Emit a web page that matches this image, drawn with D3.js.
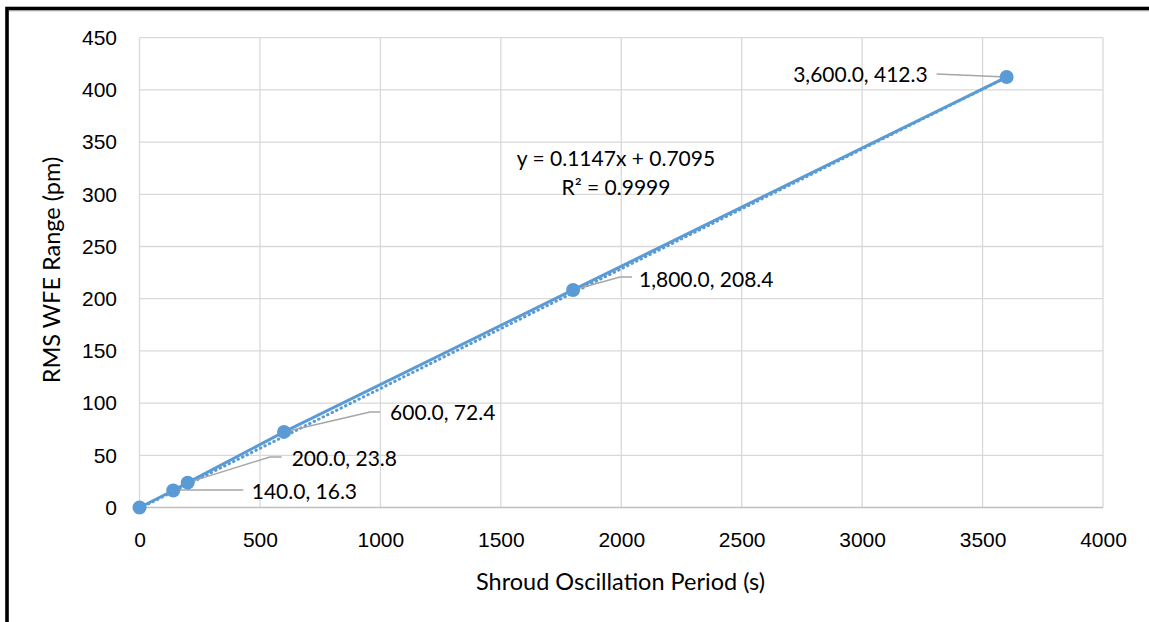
<!DOCTYPE html>
<html><head><meta charset="utf-8">
<script src="https://cdn.jsdelivr.net/npm/d3@7"></script>
<style>
html,body{margin:0;padding:0;background:#fff;}
svg{display:block;font-family:Lato, "Open Sans", sans-serif;}
</style></head>
<body>
<svg id="chart" width="1149" height="622"></svg>
<script>
const xValues = [0, 140, 200, 600, 1800, 3600];
const yValues = [0, 16.3, 23.8, 72.4, 208.4, 412.3];
const pointLabels = ["", "140.0, 16.3", "200.0, 23.8", "600.0, 72.4", "1,800.0, 208.4", "3,600.0, 412.3"];
const xTicks = [0, 500, 1000, 1500, 2000, 2500, 3000, 3500, 4000];
const yTicks = [0, 50, 100, 150, 200, 250, 300, 350, 400, 450];
const trendSlope = 0.1147, trendIntercept = 0.7095;
const equationLines = ["y = 0.1147x + 0.7095", "R² = 0.9999"];
const xTitle = "Shroud Oscillation Period (s)";
const yTitle = "RMS WFE Range (pm)";

const svg = d3.select("#chart");
const x = d3.scaleLinear().domain([0, 4000]).range([139.5, 1103]);
const y = d3.scaleLinear().domain([0, 450]).range([507.5, 37.7]);
const fs = 21;

// frame
svg.append("rect").attr("x", 7).attr("y", 8.5).attr("width", 1160).attr("height", 640)
  .attr("fill", "none").attr("stroke", "#000").attr("stroke-width", 3.6);
svg.append("line").attr("x1", 9).attr("x2", 1149).attr("y1", 10.8).attr("y2", 10.8)
  .attr("stroke", "#a0a0a0").attr("stroke-width", 1);

// gridlines
const g = svg.append("g");
g.selectAll(".vg").data(xTicks).join("line")
  .attr("x1", d => x(d)).attr("x2", d => x(d)).attr("y1", y(450)).attr("y2", y(0))
  .attr("stroke", "#d9d9d9").attr("stroke-width", 1.3);
g.selectAll(".hg").data(yTicks).join("line")
  .attr("x1", x(0)).attr("x2", x(4000)).attr("y1", d => y(d)).attr("y2", d => y(d))
  .attr("stroke", d => d === 0 ? "#bfbfbf" : "#d9d9d9").attr("stroke-width", 1.3);

// axes via d3
const xAxis = svg.append("g").attr("transform", `translate(0,${y(0)})`)
  .call(d3.axisBottom(x).tickValues(xTicks).tickSize(0).tickPadding(24.6).tickFormat(d3.format("d")));
xAxis.select(".domain").remove();
xAxis.selectAll("text").attr("font-size", fs).attr("fill", "#000").attr("font-family", "inherit");

const yAxis = svg.append("g").attr("transform", `translate(${x(0)},0)`)
  .call(d3.axisLeft(y).tickValues(yTicks).tickSize(0).tickPadding(22.5).tickFormat(d3.format("d")));
yAxis.select(".domain").remove();
yAxis.selectAll("text").attr("font-size", fs).attr("fill", "#000").attr("font-family", "inherit");

// titles
svg.append("text").attr("x", 620.5).attr("y", 590).attr("text-anchor", "middle")
  .attr("font-size", 23.5).text(xTitle);
svg.append("text").attr("transform", "translate(60,270) rotate(-90)").attr("text-anchor", "middle")
  .attr("font-size", 23.5).text(yTitle);

const data = xValues.map((v, i) => ({x: v, y: yValues[i], label: pointLabels[i]}));

// trendline (dotted)
svg.append("line")
  .attr("x1", x(0)).attr("y1", y(trendIntercept))
  .attr("x2", x(3600)).attr("y2", y(trendSlope * 3600 + trendIntercept))
  .attr("stroke", "#5b9bd5").attr("stroke-width", 3).attr("stroke-linecap", "round")
  .attr("stroke-dasharray", "0.5 4.5").attr("transform", "translate(0,1.5)");

// data line
svg.append("path").datum(data)
  .attr("d", d3.line().x(d => x(d.x)).y(d => y(d.y)))
  .attr("fill", "none").attr("stroke", "#5b9bd5").attr("stroke-width", 3).attr("stroke-linejoin", "round");

// leader lines (offsets from point, in pixels) and label positions
const leaders = {
  1: {pts: [[0, -0.5], [70, -0.5]], tx: 78.5, ty: 8.8},
  2: {pts: [[0, 0], [82, -25.6], [94, -25.6]], tx: 104, ty: -16.6},
  3: {pts: [[0, 0], [86, -20], [96, -20]], tx: 106, ty: -12},
  4: {pts: [[0, 0], [47, -13], [59, -13]], tx: 66, ty: -2.6},
  5: {pts: [[0, 0], [-70, -3]], tx: -79, ty: 4.6, anchor: "end"}
};
data.forEach((d, i) => {
  const L = leaders[i];
  if (!L) return;
  const px = x(d.x), py = y(d.y);
  svg.append("polyline")
    .attr("points", L.pts.map(p => [px + p[0], py + p[1]].join(",")).join(" "))
    .attr("fill", "none").attr("stroke", "#a6a6a6").attr("stroke-width", 1.5);
  svg.append("text").attr("x", px + L.tx).attr("y", py + L.ty)
    .attr("text-anchor", L.anchor || "start").attr("font-size", fs).text(d.label);
});

// markers
svg.selectAll(".pt").data(data).join("circle")
  .attr("cx", d => x(d.x)).attr("cy", d => y(d.y)).attr("r", 7)
  .attr("fill", "#5b9bd5");

// equation
svg.selectAll(".eq").data(equationLines).join("text")
  .attr("x", 616).attr("y", (d, i) => 166 + i * 29).attr("text-anchor", "middle")
  .attr("font-size", fs).text(d => d);
</script>
</body></html>
